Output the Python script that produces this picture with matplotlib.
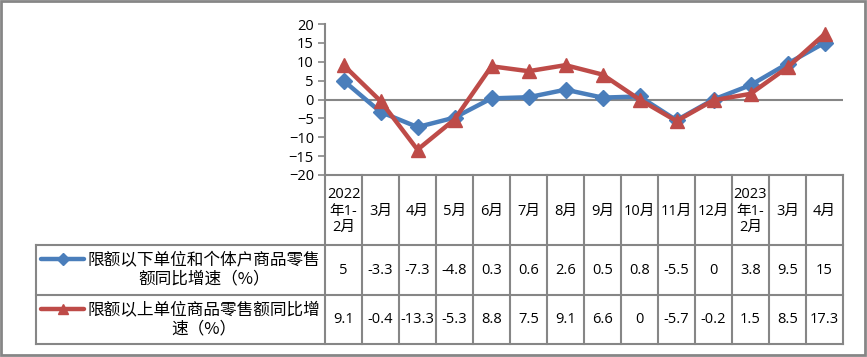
import matplotlib
matplotlib.use('Agg')
import matplotlib.pyplot as plt
from matplotlib.patches import Rectangle
from matplotlib.lines import Line2D
import numpy as np

plt.rcParams['font.family'] = ['Open Sans', 'Noto Sans CJK SC', 'DejaVu Sans']

categories = ['2022\n年1-\n2月', '3月', '4月', '5月', '6月', '7月', '8月', '9月',
              '10月', '11月', '12月', '2023\n年1-\n2月', '3月', '4月']
below_limit = [5, -3.3, -7.3, -4.8, 0.3, 0.6, 2.6, 0.5, 0.8, -5.5, 0, 3.8, 9.5, 15]
above_limit = [9.1, -0.4, -13.3, -5.3, 8.8, 7.5, 9.1, 6.6, 0, -5.7, -0.2, 1.5, 8.5, 17.3]
series_names = ['限额以下单位和个体户商品零售\n额同比增速（%）',
                '限额以上单位商品零售额同比增\n速（%）']

blue = '#4A7EBB'
red = '#BE4B48'
grid_c = '#868686'

W, H = 867, 357
fig = plt.figure(figsize=(W / 100, H / 100), dpi=100)

# plot area in pixels
px_l, px_r, px_t, px_b = 325, 843, 24, 175
ax = fig.add_axes([px_l / W, 1 - px_b / H, (px_r - px_l) / W, (px_b - px_t) / H])
n = len(categories)
x = np.arange(n)
ax.set_xlim(-0.5, n - 0.5)
ax.set_ylim(-20, 20)
ax.set_yticks(range(-20, 21, 5))
ax.tick_params(axis='y', length=5, width=1.2, color=grid_c, labelsize=10.5, pad=3)
ax.set_xticks([])
for s in ['top', 'right', 'bottom']:
    ax.spines[s].set_visible(False)
ax.spines['left'].set_color(grid_c)
ax.spines['left'].set_linewidth(1.5)
ax.axhline(0, color=grid_c, lw=1.5, zorder=1)
ax.patch.set_alpha(0)

ax.plot(x, below_limit, color=blue, lw=3.2, marker='D', ms=8.5, zorder=3, clip_on=False)
ax.plot(x, above_limit, color=red, lw=3.2, marker='^', ms=10, zorder=4, clip_on=False)

# data table drawn in pixel coordinates
tb = fig.add_axes([0, 0, 1, 1])
tb.set_xlim(0, W)
tb.set_ylim(H, 0)
tb.axis('off')
tb.patch.set_alpha(0)

col_w = (px_r - px_l) / n
tab_l = 36
row_y = [px_b, 245, 295, 344]
lw = 1.5

# vertical lines
for i in range(n + 1):
    xx = px_l + i * col_w
    tb.plot([xx, xx], [row_y[0], row_y[3]], color=grid_c, lw=lw)
tb.plot([tab_l, tab_l], [row_y[1], row_y[3]], color=grid_c, lw=lw)
# horizontal lines
tb.plot([px_l, px_r], [row_y[0], row_y[0]], color=grid_c, lw=lw)
for yy in row_y[1:]:
    tb.plot([tab_l, px_r], [yy, yy], color=grid_c, lw=lw)

# header
for i, c in enumerate(categories):
    tb.text(px_l + (i + 0.5) * col_w, (row_y[0] + row_y[1]) / 2 + 1, c,
            ha='center', va='center', fontsize=10.5, linespacing=1.15)

# rows
colors = [blue, red]
markers = ['D', '^']
msizes = [6, 7.5]
for r, vals in enumerate([below_limit, above_limit]):
    yc = (row_y[r + 1] + row_y[r + 2]) / 2
    for i, v in enumerate(vals):
        tb.text(px_l + (i + 0.5) * col_w, yc, f'{v:g}', ha='center', va='center',
                fontsize=10.5)
    ly = yc - 11
    tb.add_line(Line2D([41, 84], [ly, ly], color=colors[r], lw=3.2,
                       solid_capstyle='round'))
    tb.plot([62.5], [ly], marker=markers[r], color=colors[r], ms=msizes[r])
    tb.text(204, yc, series_names[r], ha='center', va='center', fontsize=12,
            linespacing=1.1, family=['Noto Sans CJK SC', 'DejaVu Sans'])

# outer border
tb.add_patch(Rectangle((1, 1), W - 3, H - 3, fill=False, ec=grid_c, lw=2))

fig.savefig('out.png', dpi=100)
